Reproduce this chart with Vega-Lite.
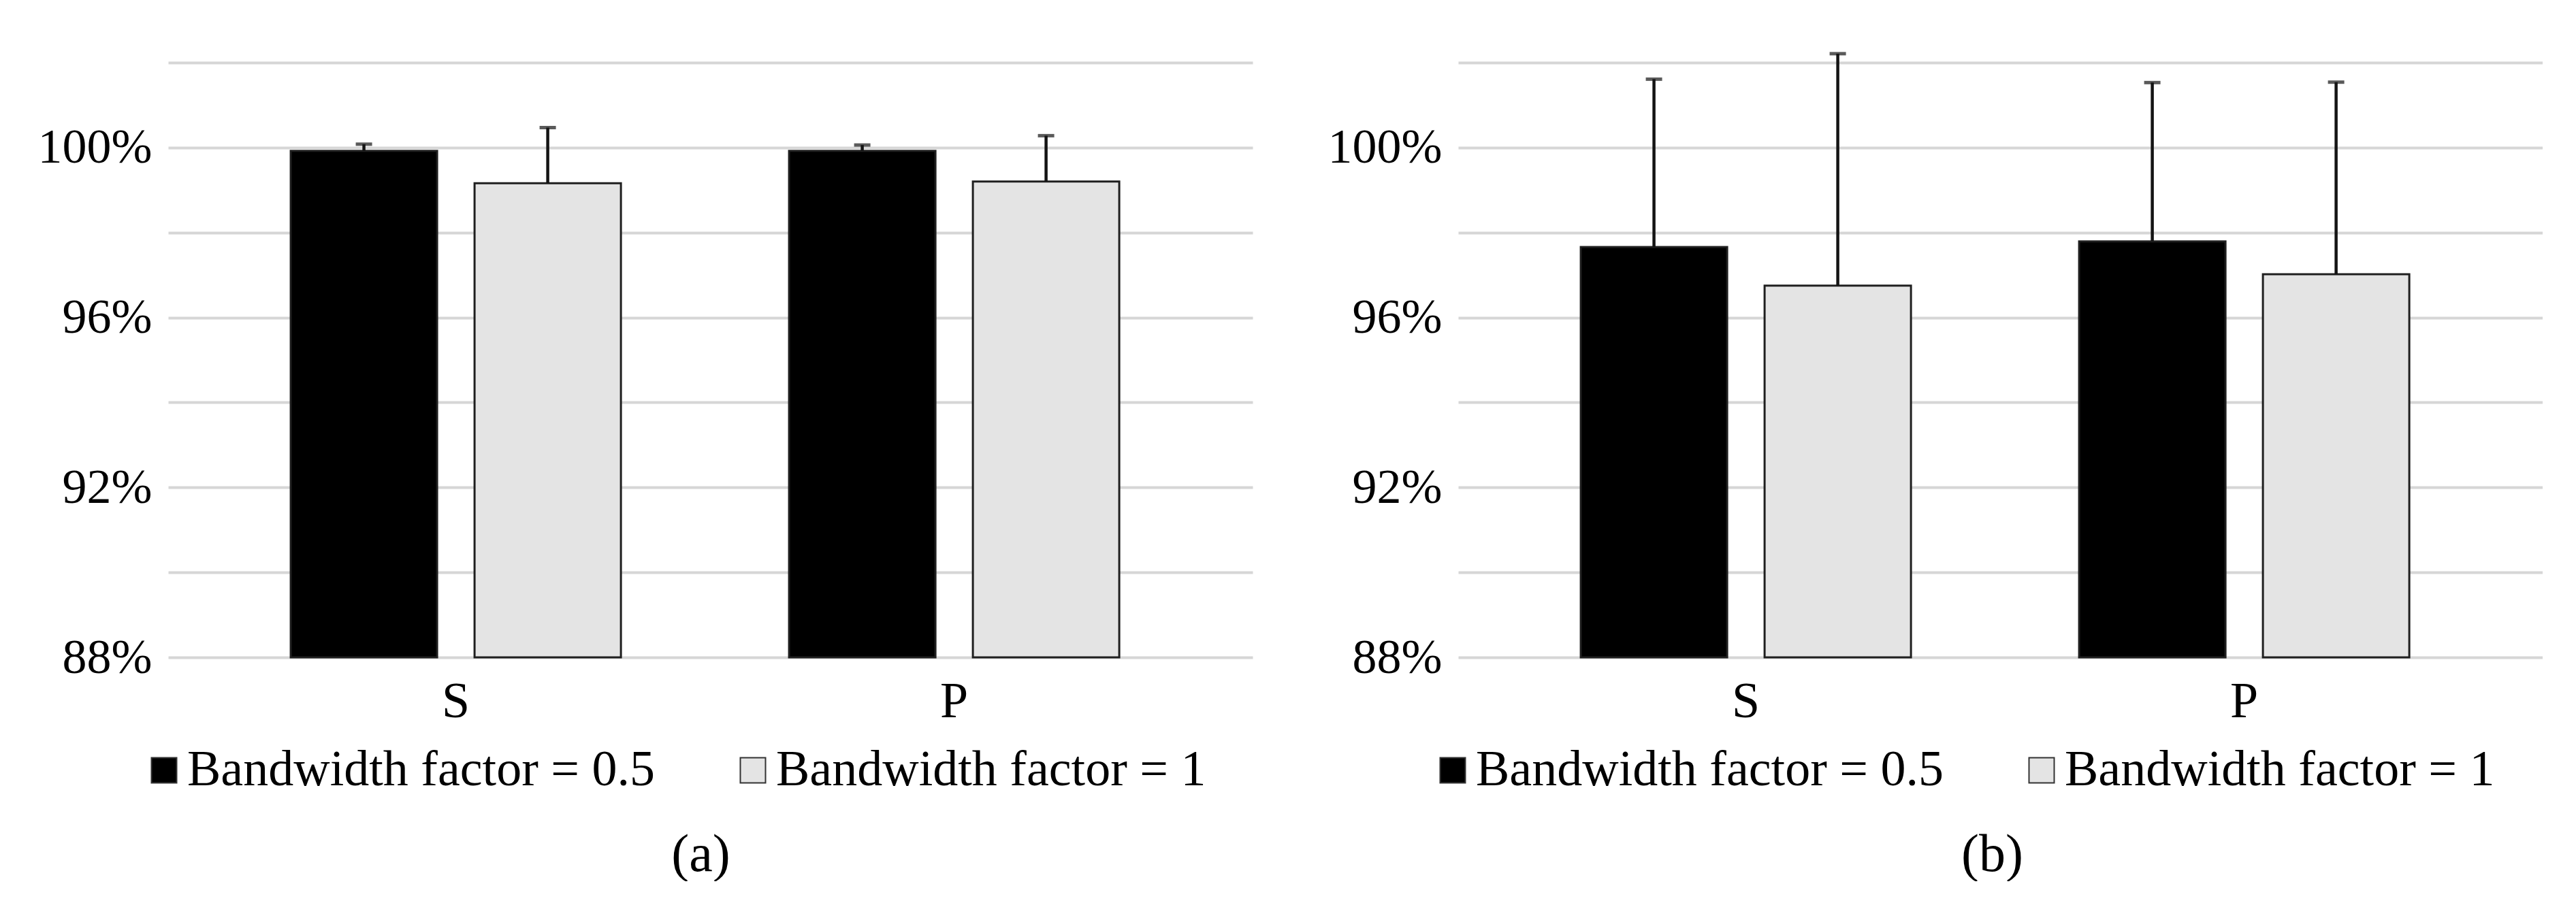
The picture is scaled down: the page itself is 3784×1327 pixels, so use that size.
{
  "$schema": "https://vega.github.io/schema/vega-lite/v6.json",
  "background": "white",
  "padding": {"left": 55, "top": 56, "right": 0, "bottom": 0},
  "spacing": 110,
  "config": {
    "font": "Liberation Serif",
    "view": {"stroke": null},
    "axis": {"labelFont": "Liberation Serif", "titleFont": "Liberation Serif", "labelColor": "#000", "titleColor": "#000"},
    "legend": {"orient": "none", "legendY": 1003, "direction": "horizontal", "title": null, "symbolType": "square", "symbolSize": 1369, "labelFontSize": 74, "labelFont": "Liberation Serif", "labelColor": "#000", "labelOffset": -3, "columnPadding": 106, "labelLimit": 2000, "symbolStrokeColor": "#333333", "symbolStrokeWidth": 2, "padding": 0, "symbolOpacity": 1}
  },
  "resolve": {"scale": {"color": "independent"}, "legend": {"color": "independent"}},
  "hconcat": [
    {
      "width": 1593,
      "height": 874,
      "data": {"values": [
        {"group": "S", "series": "Bandwidth factor = 0.5", "value": 0.9992, "upper": 1.0008},
        {"group": "S", "series": "Bandwidth factor = 1", "value": 0.9916, "upper": 1.0047},
        {"group": "P", "series": "Bandwidth factor = 0.5", "value": 0.9992, "upper": 1.0006},
        {"group": "P", "series": "Bandwidth factor = 1", "value": 0.9920, "upper": 1.0028}
      ]},
      "resolve": {"axis": {"y": "independent"}},
      "encoding": {
        "x": {"field": "group", "type": "nominal", "sort": ["S", "P"],
          "scale": {"paddingInner": 0.3374, "paddingOuter": 0.2568, "align": 0.479},
          "axis": {"title": "(a)", "titleX": 782, "titleY": 290, "titleAlign": "center", "titleBaseline": "middle", "titleFontSize": 78, "titleFontWeight": "normal", "labelAngle": 0, "labelFontSize": 74, "labelPadding": 29, "ticks": false, "tickSize": 0, "domain": false, "grid": false}},
        "xOffset": {"field": "series", "type": "nominal", "sort": ["Bandwidth factor = 0.5", "Bandwidth factor = 1"], "scale": {"paddingInner": 0.2037, "paddingOuter": 0}}
      },
      "layer": [
        {
          "mark": {"type": "bar", "stroke": "#1f1f1f", "strokeWidth": 3},
          "encoding": {
            "y": {"field": "value", "type": "quantitative", "title": null,
              "scale": {"domain": [0.88, 1.02], "zero": false, "nice": false},
              "axis": {"values": [0.88, 0.90, 0.92, 0.94, 0.96, 0.98, 1.00, 1.02], "labelExpr": "indexof([88,92,96,100], round(datum.value*100)) >= 0 ? round(datum.value*100) + '%' : ''", "labelFontSize": 72, "labelPadding": 24, "ticks": false, "tickSize": 0, "domain": false, "grid": true, "gridColor": "#d6d6d6", "gridWidth": 4, "labelOverlap": false, "labelFlush": false}},
            "y2": {"datum": 0.88},
            "color": {"field": "series", "type": "nominal", "sort": ["Bandwidth factor = 0.5", "Bandwidth factor = 1"],
              "scale": {"range": ["#000000", "#e4e4e4"]},
              "legend": {"legendX": -43}}
          }
        },
        {
          "mark": {"type": "rule", "color": "#141414", "strokeWidth": 4.5},
          "encoding": {
            "y": {"field": "value", "type": "quantitative", "title": null, "scale": {"domain": [0.88, 1.02], "zero": false, "nice": false}, "axis": null},
            "y2": {"field": "upper"}
          }
        },
        {
          "mark": {"type": "tick", "color": "#141414", "size": 24, "thickness": 5, "orient": "horizontal"},
          "encoding": {
            "y": {"field": "upper", "type": "quantitative", "title": null, "scale": {"domain": [0.88, 1.02], "zero": false, "nice": false}, "axis": null}
          }
        }
      ]
    },
    {
      "width": 1593,
      "height": 874,
      "data": {"values": [
        {"group": "S", "series": "Bandwidth factor = 0.5", "value": 0.9766, "upper": 1.0161},
        {"group": "S", "series": "Bandwidth factor = 1", "value": 0.9675, "upper": 1.0221},
        {"group": "P", "series": "Bandwidth factor = 0.5", "value": 0.9779, "upper": 1.0153},
        {"group": "P", "series": "Bandwidth factor = 1", "value": 0.9702, "upper": 1.0154}
      ]},
      "resolve": {"axis": {"y": "independent"}},
      "encoding": {
        "x": {"field": "group", "type": "nominal", "sort": ["S", "P"],
          "scale": {"paddingInner": 0.3374, "paddingOuter": 0.2568, "align": 0.479},
          "axis": {"title": "(b)", "titleX": 784, "titleY": 290, "titleAlign": "center", "titleBaseline": "middle", "titleFontSize": 78, "titleFontWeight": "normal", "labelAngle": 0, "labelFontSize": 74, "labelPadding": 29, "ticks": false, "tickSize": 0, "domain": false, "grid": false}},
        "xOffset": {"field": "series", "type": "nominal", "sort": ["Bandwidth factor = 0.5", "Bandwidth factor = 1"], "scale": {"paddingInner": 0.2037, "paddingOuter": 0}}
      },
      "layer": [
        {
          "mark": {"type": "bar", "stroke": "#1f1f1f", "strokeWidth": 3},
          "encoding": {
            "y": {"field": "value", "type": "quantitative", "title": null,
              "scale": {"domain": [0.88, 1.02], "zero": false, "nice": false},
              "axis": {"values": [0.88, 0.90, 0.92, 0.94, 0.96, 0.98, 1.00, 1.02], "labelExpr": "indexof([88,92,96,100], round(datum.value*100)) >= 0 ? round(datum.value*100) + '%' : ''", "labelFontSize": 72, "labelPadding": 24, "ticks": false, "tickSize": 0, "domain": false, "grid": true, "gridColor": "#d6d6d6", "gridWidth": 4, "labelOverlap": false, "labelFlush": false}},
            "y2": {"datum": 0.88},
            "color": {"field": "series", "type": "nominal", "sort": ["Bandwidth factor = 0.5", "Bandwidth factor = 1"],
              "scale": {"range": ["#000000", "#e4e4e4"]},
              "legend": {"legendX": -45}}
          }
        },
        {
          "mark": {"type": "rule", "color": "#141414", "strokeWidth": 4.5},
          "encoding": {
            "y": {"field": "value", "type": "quantitative", "title": null, "scale": {"domain": [0.88, 1.02], "zero": false, "nice": false}, "axis": null},
            "y2": {"field": "upper"}
          }
        },
        {
          "mark": {"type": "tick", "color": "#141414", "size": 24, "thickness": 5, "orient": "horizontal"},
          "encoding": {
            "y": {"field": "upper", "type": "quantitative", "title": null, "scale": {"domain": [0.88, 1.02], "zero": false, "nice": false}, "axis": null}
          }
        }
      ]
    }
  ]
}
